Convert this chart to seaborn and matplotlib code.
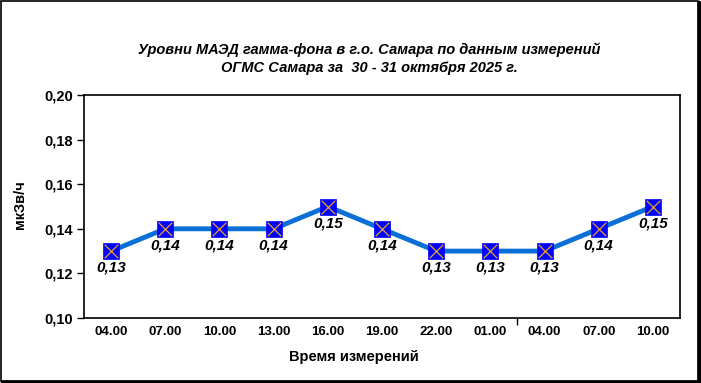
import numpy as np
import pandas as pd
import matplotlib
matplotlib.use("Agg")
import matplotlib.pyplot as plt
import seaborn as sns
from matplotlib.patches import Rectangle
from matplotlib.lines import Line2D

# --- data ---
times = ['04.00', '07.00', '10.00', '13.00', '16.00', '19.00',
         '22.00', '01.00', '04.00', '07.00', '10.00']
dose = [0.13, 0.14, 0.14, 0.14, 0.15, 0.14, 0.13, 0.13, 0.13, 0.14, 0.15]
y_ticks = [0.10, 0.12, 0.14, 0.16, 0.18, 0.20]

df = pd.DataFrame({'pos': np.arange(len(times)), 'dose': dose})

sns.set_theme(style="white")
plt.rcParams['font.family'] = ['Liberation Sans', 'DejaVu Sans']
plt.rcParams['text.color'] = 'black'
plt.rcParams['xtick.color'] = 'black'
plt.rcParams['ytick.color'] = 'black'
plt.rcParams['axes.labelcolor'] = 'black'

fig = plt.figure(figsize=(7.01, 3.83), dpi=100)
ax = fig.add_axes([84 / 701, 1 - 318 / 383, 596 / 701, 223 / 383])

sns.lineplot(data=df, x='pos', y='dose', ax=ax, color='#0a6fd6',
             linewidth=3.5, zorder=2)
# square markers with an orange cross, like the Excel original
sns.scatterplot(data=df, x='pos', y='dose', ax=ax, marker='s', s=125,
                color='#0000ff', edgecolor='#0000ff', linewidth=0.5, zorder=3)
sns.scatterplot(data=df, x='pos', y='dose', ax=ax, marker='x', s=95,
                color='#e8a028', linewidth=0.9, zorder=4)

for x, v in zip(df['pos'], df['dose']):
    ax.annotate(f"{v:.2f}".replace('.', ','), (x, v), xytext=(0, -12),
                textcoords='offset points', ha='center', va='center',
                fontsize=11, fontweight='bold', fontstyle='italic',
                color='black', zorder=5)

ax.set_xlim(-0.5, len(times) - 0.5)
ax.set_ylim(0.10, 0.20)
ax.set_yticks(y_ticks)
ax.set_yticklabels([f"{t:.2f}".replace('.', ',') for t in y_ticks],
                   fontsize=10.5, fontweight='bold')
ax.tick_params(axis='y', direction='out', length=5, width=1, color='black',
               left=True, pad=3)

# one tick between the two days, labels under the categories
ax.set_xticks([7.5])
ax.set_xticklabels([''])
ax.tick_params(axis='x', direction='out', length=5, width=1, color='black',
               bottom=True)
for x, t in enumerate(times):
    ax.text(x, -0.064, t, transform=ax.get_xaxis_transform(), ha='center',
            va='center', fontsize=9.5, fontweight='bold')

for sp in ax.spines.values():
    sp.set_visible(True)
    sp.set_color('black')
    sp.set_linewidth(1.2)

ax.set_xlabel('')
ax.set_ylabel('')
fig.text(354 / 701, 1 - 357 / 383, 'Время измерений', ha='center',
         va='center', fontsize=10.5, fontweight='bold')
fig.text(20 / 701, 1 - 205 / 383, 'мкЗв/ч', ha='center', va='center',
         rotation=90, fontsize=10.5, fontweight='bold')

fig.text(369 / 701, 1 - 50 / 383,
         'Уровни МАЭД гамма-фона в г.о. Самара по данным измерений',
         ha='center', va='center', fontsize=10.5, fontweight='bold',
         fontstyle='italic')
fig.text(369 / 701, 1 - 68 / 383,
         'ОГМС Самара за  30 - 31 октября 2025 г.',
         ha='center', va='center', fontsize=10.5, fontweight='bold',
         fontstyle='italic')

# outer frame of the chart: thin left/top, heavier right/bottom (shadow)
fig.patches.append(Rectangle((0.5 / 701, 2.5 / 383), 697.5 / 701, 380 / 383,
                             transform=fig.transFigure, fill=False,
                             edgecolor='black', linewidth=1.2))
fig.lines.append(Line2D([699 / 701, 699 / 701], [1.5 / 383, 381 / 383],
                        transform=fig.transFigure, color='black', linewidth=2.5))
fig.lines.append(Line2D([2 / 701, 700 / 701], [1.5 / 383, 1.5 / 383],
                        transform=fig.transFigure, color='black', linewidth=2.5))

fig.savefig('out.png', dpi=100)
